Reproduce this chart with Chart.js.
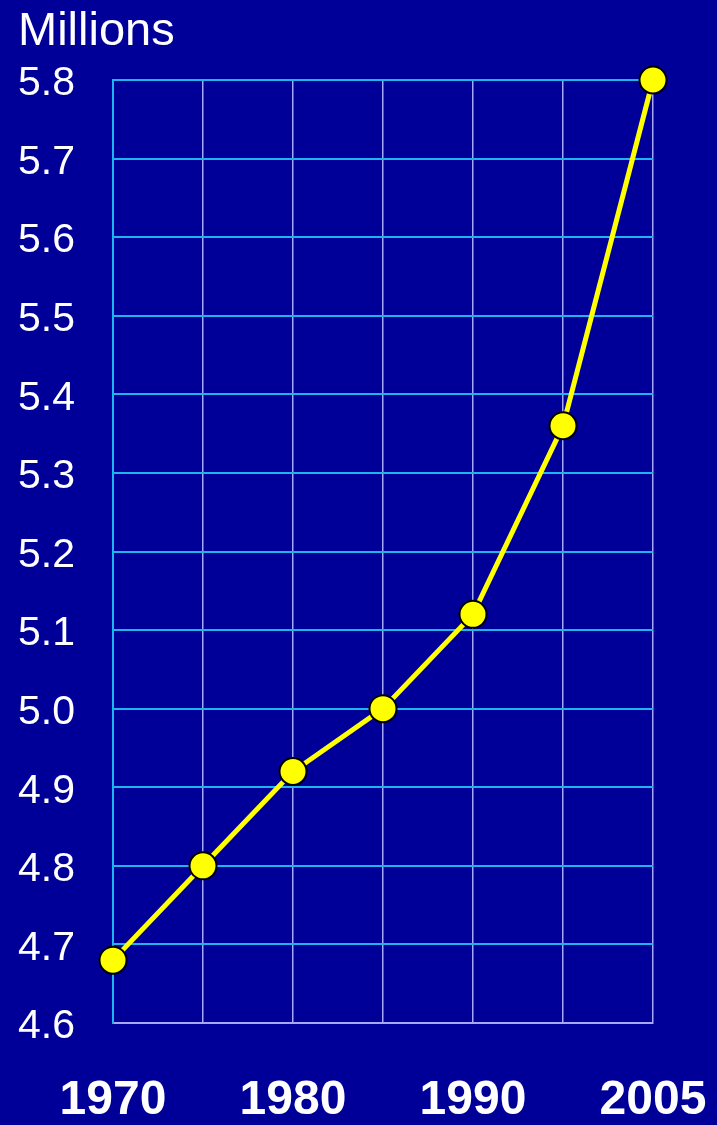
<!DOCTYPE html>
<html>
<head>
<meta charset="utf-8">
<script src="https://cdn.jsdelivr.net/npm/chart.js@4/dist/chart.umd.min.js"></script>
<style>
  html, body { margin: 0; padding: 0; background: #000099; }
  #wrap { width: 717px; height: 1125px; }
</style>
</head>
<body>
<div id="wrap"><canvas id="c" width="717" height="1125"></canvas></div>
<script>
const years = ['1970', '1975', '1980', '1985', '1990', '1995', '2005'];
const shownYears = ['1970', '1980', '1990', '2005'];
const population = [4.68, 4.80, 4.92, 5.00, 5.12, 5.36, 5.80];
const yMin = 4.6, yMax = 5.8, yStep = 0.1;
const unitLabel = 'Millions';

const bgPlugin = {
  id: 'bg',
  beforeDraw(chart) {
    const ctx = chart.ctx;
    ctx.save();
    ctx.fillStyle = '#000099';
    ctx.fillRect(0, 0, chart.width, chart.height);
    ctx.restore();
  }
};

new Chart(document.getElementById('c'), {
  type: 'line',
  data: {
    labels: years,
    datasets: [{
      data: population,
      borderColor: '#FFFF00',
      borderWidth: 5,
      pointRadius: 13.5,
      pointHoverRadius: 13.5,
      pointBackgroundColor: '#FFFF00',
      pointBorderColor: '#000000',
      pointBorderWidth: 2,
      tension: 0,
      clip: false
    }]
  },
  options: {
    responsive: false,
    animation: false,
    devicePixelRatio: 1,
    layout: { padding: { left: 18, right: 64, top: 0, bottom: 0 } },
    plugins: {
      legend: { display: false },
      tooltip: { enabled: false },
      title: {
        display: true,
        text: unitLabel,
        align: 'start',
        color: '#FFFFFF',
        font: { family: 'Liberation Sans, Arial, sans-serif', size: 47, weight: 'normal', lineHeight: 1.2 },
        padding: { top: 4, bottom: 19.6 }
      }
    },
    scales: {
      x: {
        type: 'category',
        offset: false,
        grid: { color: '#A8A8F8', lineWidth: 1.5, drawTicks: false },
        border: { color: '#A8A8F8', width: 2 },
        afterFit(scale) {
          scale.height = 102;
          scale.paddingLeft = 0;
          scale.paddingRight = 0;
        },
        ticks: {
          autoSkip: false,
          maxRotation: 0,
          minRotation: 0,
          padding: 49,
          color: '#FFFFFF',
          font: { family: 'Liberation Sans, Arial, sans-serif', size: 48, weight: 'bold', lineHeight: 1.2 },
          callback: function(value) {
            const lab = this.getLabelForValue(value);
            return shownYears.includes(lab) ? lab : '';
          }
        }
      },
      y: {
        min: yMin,
        max: yMax,
        grid: { color: '#1EB4F0', lineWidth: 2, drawTicks: false },
        border: { color: '#1EB4F0', width: 2 },
        afterFit(scale) { scale.width = 95; },
        ticks: {
          stepSize: yStep,
          crossAlign: 'far',
          padding: 0,
          labelOffset: 4,
          color: '#FFFFFF',
          font: { family: 'Liberation Sans, Arial, sans-serif', size: 41, weight: 'normal' },
          callback: v => Number(v).toFixed(1)
        }
      }
    }
  },
  plugins: [bgPlugin]
});
</script>
</body>
</html>
